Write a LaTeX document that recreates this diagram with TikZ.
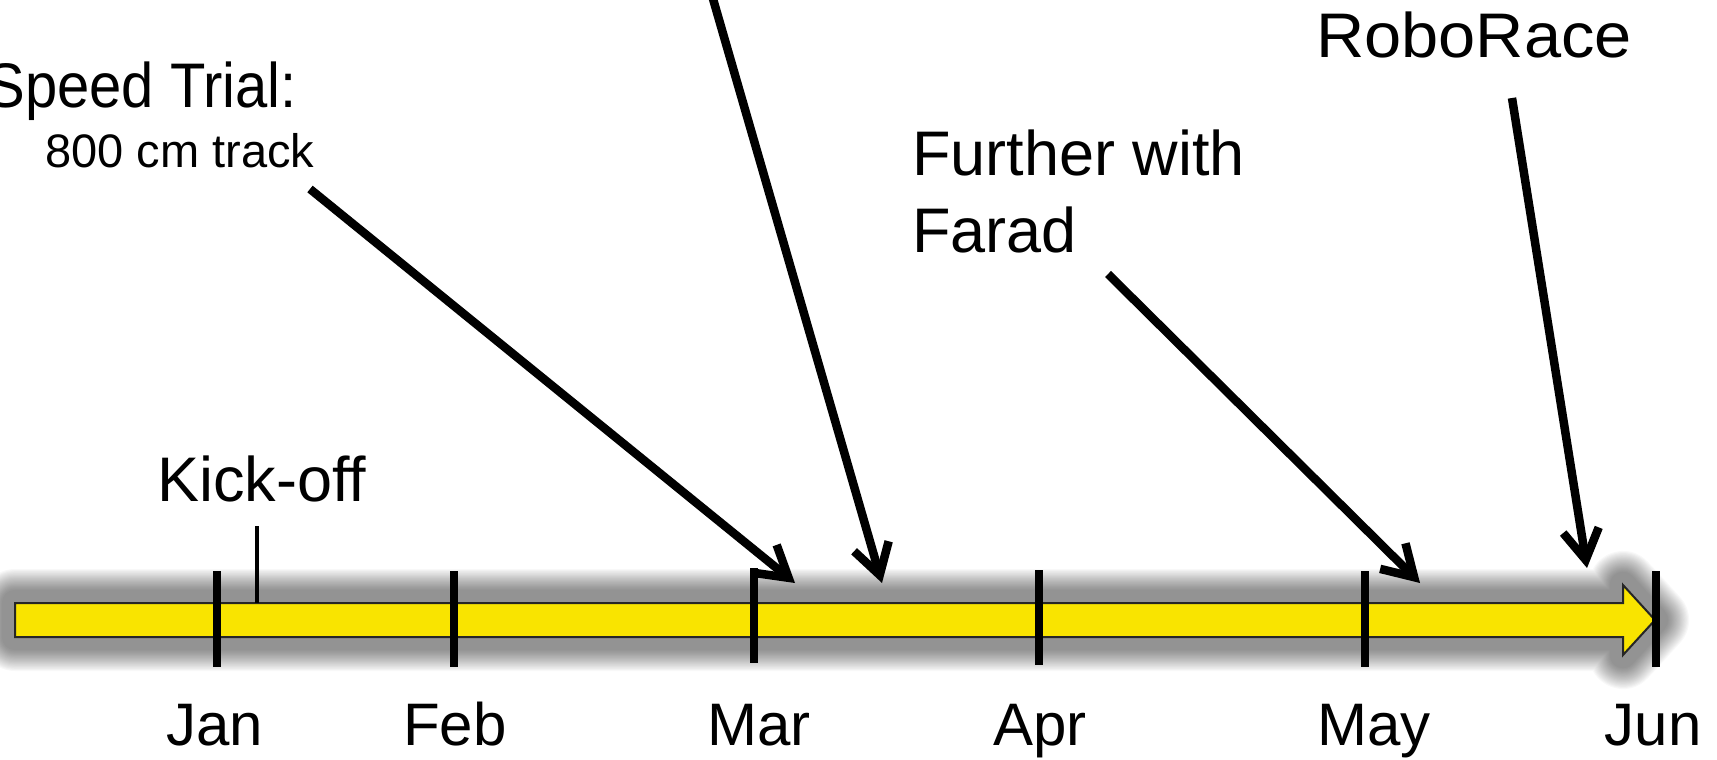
\documentclass[tikz,border=0pt]{standalone}
\usepackage{fontspec}
\setmainfont{Liberation Sans}
\usetikzlibrary{arrows.meta}
\definecolor{baryellow}{RGB}{249,228,0}
\begin{document}
\begin{tikzpicture}[x=1pt,y=-1pt,
  lbl/.style={inner sep=0pt, font=\fontsize{63}{70}\selectfont},
  smalllbl/.style={inner sep=0pt, font=\fontsize{47}{52}\selectfont},
  month/.style={inner sep=0pt, anchor=base, font=\fontsize{60}{66}\selectfont},
  tickmark/.style={line width=8pt},
  callout/.style={line width=8.5pt, -{Straight Barb[length=30pt,width=36pt]}},
]
\useasboundingbox (0,0) rectangle (1717,760);

% shadow
\foreach \i in {1,...,20} {
  \pgfmathsetmacro\lw{2*(12+1.1*\i)}
  \draw[black, draw opacity=0.028, line join=round, line width=\lw pt]
    (15,603) -- (1623,603) -- (1623,585) -- (1655,620) -- (1623,655) -- (1623,637) -- (15,637) -- cycle;
}
% timeline bar
\draw[fill=baryellow, draw=black!85, line width=2pt, line join=miter]
  (15,603) -- (1623,603) -- (1623,585) -- (1655,620) -- (1623,655) -- (1623,637) -- (15,637) -- cycle;

% ticks
\coordinate (jant) at (217,571); \coordinate (janb) at (217,667);
\coordinate (febt) at (454,571); \coordinate (febb) at (454,667);
\coordinate (mart) at (754,568); \coordinate (marb) at (754,663);
\coordinate (aprt) at (1039,570); \coordinate (aprb) at (1039,665);
\coordinate (mayt) at (1365,571); \coordinate (mayb) at (1365,667);
\coordinate (junt) at (1656,571); \coordinate (junb) at (1656,667);
\draw[tickmark] (jant) -- (janb);
\draw[tickmark] (febt) -- (febb);
\draw[tickmark] (mart) -- (marb);
\draw[tickmark] (aprt) -- (aprb);
\draw[tickmark] (mayt) -- (mayb);
\draw[tickmark] (junt) -- (junb);

% month labels
\node[month] (jan) at (215,745) {Jan};
\node[month] (feb) at (455,745) {Feb};
\node[month] (mar) at (759,745) {Mar};
\node[month] (apr) at (1040,745) {Apr};
\node[month] (may) at (1374,745) {May};
\node[month] (jun) at (1653,745) {Jun};

% Kick-off
\node[lbl, anchor=base west] (kick) at (157,501) {Kick-off};
\coordinate (ko1) at (257,526); \coordinate (ko2) at (257,603);
\draw[line width=4.5pt] (ko1) -- (ko2);

% labels
\node[lbl, anchor=base east] (speed) at (297,107) {\addfontfeatures{FakeStretch=0.92}Speed Trial:};
\node[smalllbl, anchor=base west] (track) at (45,167) {800 cm track};
\node[lbl, anchor=base west] (further) at (912,175) {Further with};
\node[lbl, anchor=base west] (farad) at (912,252) {Farad};
\node[lbl, anchor=base west] (robo) at (1316,58) {\addfontfeatures{FakeStretch=1.06}RoboRace};

% callout arrows
\coordinate (s1) at (310,189); \coordinate (e1) at (795,583);
\coordinate (s2) at (711,-8);  \coordinate (e2) at (882,583);
\coordinate (s3) at (1108,274); \coordinate (e3) at (1420,583);
\coordinate (s4) at (1512,98); \coordinate (e4) at (1587,568);
\draw[callout] (s1) -- (e1);
\draw[callout] (s2) -- (e2);
\draw[callout] (s3) -- (e3);
\draw[callout] (s4) -- (e4);
\end{tikzpicture}
\end{document}
